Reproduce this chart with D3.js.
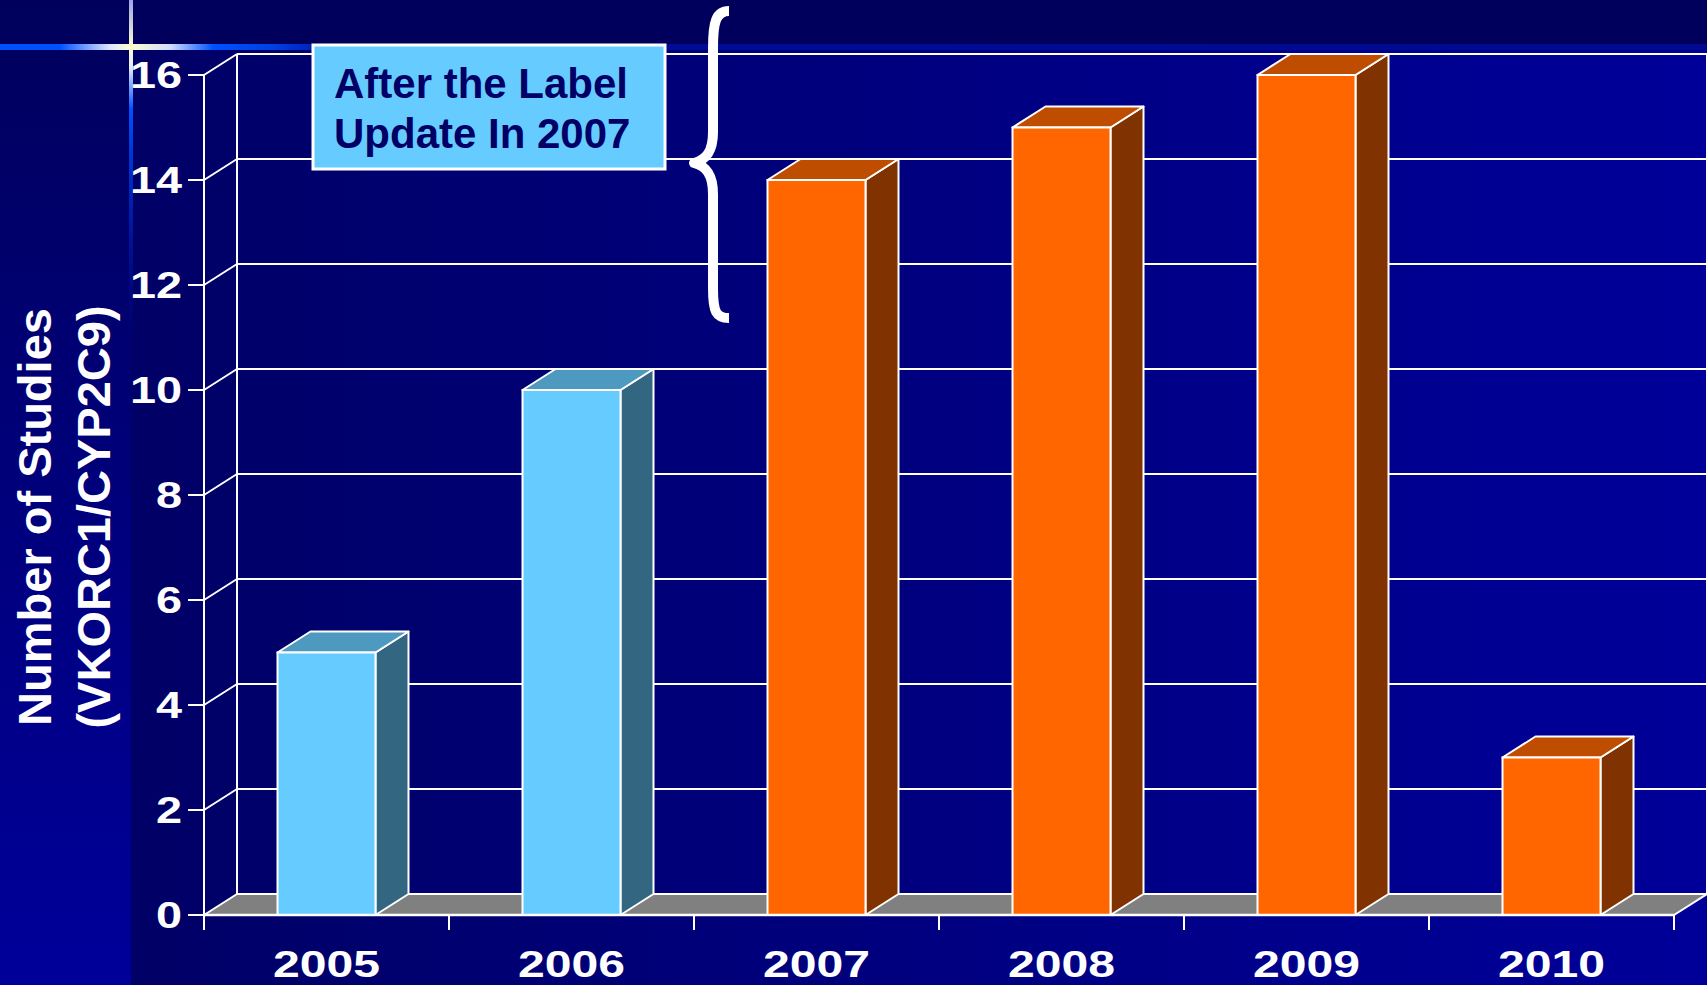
<!DOCTYPE html>
<html>
<head>
<meta charset="utf-8">
<script src="https://cdn.jsdelivr.net/npm/d3@7"></script>
<style>
  html, body { margin: 0; padding: 0; background: #000060; overflow: hidden; }
  svg { display: block; }
  text { font-family: "Liberation Sans", Arial, sans-serif; font-weight: bold; }
</style>
</head>
<body>
<svg id="chart" width="1707" height="985"></svg>
<script>
// ---- data ----
const categories = ["2005", "2006", "2007", "2008", "2009", "2010"];
const values = [5, 10, 14, 15, 16, 3];
const periods = ["before", "before", "after", "after", "after", "after"];
const yTicks = [0, 2, 4, 6, 8, 10, 12, 14, 16];
const axisTitleLines = ["Number of Studies", "(VKORC1/CYP2C9)"];
const calloutLines = ["After the Label", "Update In 2007"];

// ---- styling ----
const W = 1707, H = 985;
const depth = { dx: 33, dy: 21 };
const palette = {
  before: { front: "#66CCFF", top: "#4D99BF", side: "#336680" },
  after:  { front: "#FF6600", top: "#BF4D00", side: "#803300" }
};

const svg = d3.select("#chart");
const defs = svg.append("defs");

// background gradients
const gMain = defs.append("linearGradient").attr("id", "gMain").attr("x1", 0).attr("x2", 1).attr("y1", 0).attr("y2", 0);
gMain.append("stop").attr("offset", 0).attr("stop-color", "#000066");
gMain.append("stop").attr("offset", 1).attr("stop-color", "#000099");
const gLeft = defs.append("linearGradient").attr("id", "gLeft").attr("x1", 0).attr("x2", 0).attr("y1", 0).attr("y2", 1);
gLeft.append("stop").attr("offset", 0).attr("stop-color", "#00005C");
gLeft.append("stop").attr("offset", 1).attr("stop-color", "#00009A");
const gH = defs.append("linearGradient").attr("id", "gH").attr("x1", 0).attr("x2", 1).attr("y1", 0).attr("y2", 0);
[[0, "#0050ff"], [0.035, "#0050ff"], [0.065, "#e0e8ff"], [0.076, "#ffffcc"], [0.1, "#d0dcff"], [0.125, "#0050ff"], [0.16, "#0040e0"], [0.2, "#000c9c"], [1, "#000a8c"]]
  .forEach(([o, c]) => gH.append("stop").attr("offset", o).attr("stop-color", c));
const gV = defs.append("linearGradient").attr("id", "gV").attr("x1", 0).attr("x2", 0).attr("y1", 0).attr("y2", 1);
[[0, "#9aa4e8", 1], [0.14, "#ffffcc", 1], [0.2, "#e0e8ff", 1], [0.32, "#0050ff", 1], [0.55, "#0030d0", 0.8], [1, "#0010a0", 0]]
  .forEach(([o, c, a]) => gV.append("stop").attr("offset", o).attr("stop-color", c).attr("stop-opacity", a));

// background
svg.append("rect").attr("width", W).attr("height", H).attr("fill", "#00005C");
svg.append("rect").attr("x", 131).attr("y", 47).attr("width", W - 131).attr("height", H - 47).attr("fill", "url(#gMain)");
svg.append("rect").attr("x", 0).attr("y", 0).attr("width", 131).attr("height", H).attr("fill", "url(#gLeft)");
svg.append("rect").attr("x", 0).attr("y", 44).attr("width", W).attr("height", 6).attr("fill", "url(#gH)");
svg.append("rect").attr("x", 129).attr("y", 0).attr("width", 4).attr("height", 340).attr("fill", "url(#gV)");

// ---- scales ----
const x = d3.scaleBand().domain(categories).range([204, 1674]).paddingInner(0.6).paddingOuter(0.3);
const y = d3.scaleLinear().domain([0, 16]).range([915, 75]);
const x0 = x.range()[0], x1 = x.range()[1];
const step = x.step();

const line = (g, a, b, c, d, w) => g.append("line").attr("x1", a).attr("y1", b).attr("x2", c).attr("y2", d)
  .attr("stroke", "#ffffff").attr("stroke-width", w || 2);

// floor
svg.append("polygon")
  .attr("points", [[x0, y(0)], [x0 + depth.dx, y(0) - depth.dy], [x1 + depth.dx, y(0) - depth.dy], [x1, y(0)]].join(" "))
  .attr("fill", "#808080");

// gridlines (back wall + side wall)
const grid = svg.append("g");
yTicks.forEach(t => {
  line(grid, x0 + depth.dx, y(t) - depth.dy, x1 + depth.dx, y(t) - depth.dy, 2);
  line(grid, x0, y(t), x0 + depth.dx, y(t) - depth.dy, 2);
  line(grid, x0 - 16, y(t), x0, y(t), 2);
});
line(grid, x0 + depth.dx, y(16) - depth.dy, x0 + depth.dx, y(0) - depth.dy, 2);
line(grid, x1 + depth.dx, y(16) - depth.dy, x1 + depth.dx, y(0) - depth.dy, 2);
line(grid, x0, y(16), x0, y(0) + 15, 2);

// bars
const bars = svg.append("g").selectAll("g").data(categories).join("g");
const bw = x.bandwidth();
bars.each(function (c, i) {
  const g = d3.select(this);
  const col = palette[periods[i]];
  const L = x(c), R = L + bw, T = y(values[i]), B = y(0);
  const { dx, dy } = depth;
  g.append("polygon").attr("points", [[R, T], [R + dx, T - dy], [R + dx, B - dy], [R, B]].join(" "))
    .attr("fill", col.side).attr("stroke", "#fff").attr("stroke-width", 2).attr("stroke-linejoin", "round");
  g.append("polygon").attr("points", [[L, T], [L + dx, T - dy], [R + dx, T - dy], [R, T]].join(" "))
    .attr("fill", col.top).attr("stroke", "#fff").attr("stroke-width", 2).attr("stroke-linejoin", "round");
  g.append("rect").attr("x", L).attr("y", T).attr("width", bw).attr("height", B - T)
    .attr("fill", col.front).attr("stroke", "#fff").attr("stroke-width", 2);
});

// front x axis
const ax = svg.append("g");
line(ax, x0, y(0), x1, y(0), 2.5);
line(ax, x1, y(0), x1 + depth.dx, y(0) - depth.dy, 2);
d3.range(categories.length + 1).forEach(k => line(ax, x0 + k * step, y(0), x0 + k * step, y(0) + 15, 2));

// x labels
svg.append("g").selectAll("text").data(categories).join("text")
  .attr("transform", d => `translate(${x(d) + bw / 2},977) scale(1.3,1)`)
  .attr("text-anchor", "middle").attr("fill", "#fff").attr("font-size", 37)
  .text(d => d);

// y labels
svg.append("g").selectAll("text").data(yTicks).join("text")
  .attr("transform", d => `translate(182,${y(d) + 13}) scale(1.3,1)`)
  .attr("text-anchor", "end").attr("fill", "#fff").attr("font-size", 36)
  .text(d => d);

// axis title
const tt = svg.append("g").attr("transform", "translate(0,517)");
axisTitleLines.forEach((s, i) => {
  tt.append("text").attr("transform", `translate(${51 + i * 59},0) rotate(-90)`)
    .attr("text-anchor", "middle").attr("fill", "#fff").attr("font-size", 47).text(s);
});

// callout box
svg.append("rect").attr("x", 313).attr("y", 45).attr("width", 352).attr("height", 124)
  .attr("fill", "#66CCFF").attr("stroke", "#fff").attr("stroke-width", 3);
calloutLines.forEach((s, i) => {
  svg.append("text").attr("x", 334).attr("y", 98 + i * 50).attr("fill", "#000066")
    .attr("font-size", 42).text(s);
});

// brace
svg.append("path")
  .attr("d", "M729,11 C716,11 713,22 713,48 L713,132 C713,152 706,160 694,163 C706,166 713,174 713,194 L713,288 C713,312 716,318 729,318")
  .attr("fill", "none").attr("stroke", "#fff").attr("stroke-width", 10).attr("stroke-linecap", "butt").attr("stroke-linejoin", "round");
</script>
</body>
</html>
